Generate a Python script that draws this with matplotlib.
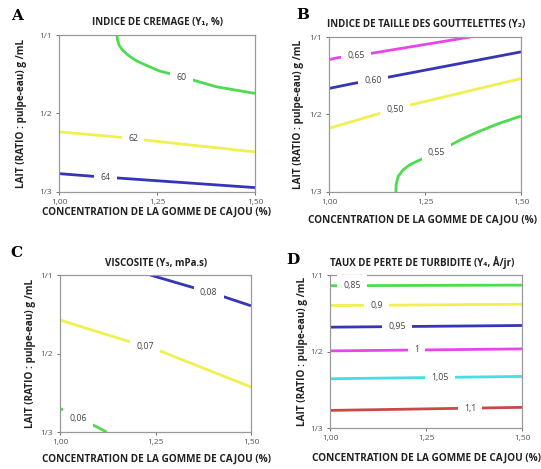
import matplotlib
matplotlib.use("Agg")
import matplotlib.pyplot as plt

W, H = 541, 469
plt.rcParams['font.family'] = ['Open Sans', 'DejaVu Sans']

GREEN = '#4ddc4d'
YELLOW = '#f0f050'
BLUE = '#3535b5'
MAGENTA = '#e846e8'
CYAN = '#46dede'
RED = '#cc4848'

x_ticks = [1.00, 1.25, 1.50]
x_ticklabels = ['1,00', '1,25', '1,50']
y_ticks = [0.0, 0.5, 1.0]
y_ticklabels = ['1/3', '1/2', '1/1']
xlabel = 'CONCENTRATION DE LA GOMME DE CAJOU (%)'
ylabel = 'LAIT (RATIO : pulpe-eau) g /mL'

# Panel A : INDICE DE CREMAGE
a_titles = 'INDICE DE CREMAGE (Y\u2081, %)'
a_60_x = [1.148, 1.149, 1.153, 1.162, 1.176, 1.197, 1.227, 1.257, 1.313, 1.342, 1.402, 1.50]
a_60_y = [1.000, 0.972, 0.936, 0.904, 0.872, 0.836, 0.802, 0.770, 0.735, 0.713, 0.670, 0.628]
a_62_x = [1.00, 1.164, 1.189, 1.223, 1.50]
a_62_y = [0.383, 0.347, 0.343, 0.330, 0.255]
a_64_x = [1.00, 1.087, 1.119, 1.151, 1.50]
a_64_y = [0.117, 0.100, 0.094, 0.089, 0.028]
a_levels = [('60', a_60_x, a_60_y, GREEN, 1.313, 0.73),
            ('62', a_62_x, a_62_y, YELLOW, 1.189, 0.343),
            ('64', a_64_x, a_64_y, BLUE, 1.119, 0.094)]

# Panel B : INDICE DE TAILLE DES GOUTTELETTES
b_title = 'INDICE DE TAILLE DES GOUTTELETTES (Y\u2082)'
b_065_x = [1.00, 1.024, 1.071, 1.106, 1.368]
b_065_y = [0.854, 0.867, 0.878, 0.893, 1.000]
b_060_x = [1.00, 1.063, 1.115, 1.159, 1.50]
b_060_y = [0.668, 0.700, 0.722, 0.743, 0.904]
b_050_x = [1.00, 1.132, 1.172, 1.211, 1.50]
b_050_y = [0.411, 0.507, 0.533, 0.561, 0.732]
b_055_x = [1.174, 1.175, 1.180, 1.193, 1.210, 1.228, 1.250, 1.280, 1.307, 1.345, 1.385, 1.440, 1.50]
b_055_y = [0.000, 0.050, 0.100, 0.143, 0.175, 0.197, 0.222, 0.255, 0.290, 0.340, 0.385, 0.440, 0.490]
b_levels = [('0,65', b_065_x, b_065_y, MAGENTA, 1.071, 0.878),
            ('0,60', b_060_x, b_060_y, BLUE, 1.115, 0.722),
            ('0,50', b_050_x, b_050_y, YELLOW, 1.172, 0.533),
            ('0,55', b_055_x, b_055_y, GREEN, 1.280, 0.255)]

# Panel C : VISCOSITE
c_title = 'VISCOSITE (Y\u2083, mPa.s)'
c_008_x = [1.236, 1.350, 1.389, 1.428, 1.50]
c_008_y = [1.000, 0.919, 0.889, 0.862, 0.804]
c_007_x = [1.00, 1.184, 1.223, 1.267, 1.50]
c_007_y = [0.713, 0.574, 0.543, 0.511, 0.287]
c_006_x = [1.00, 1.017, 1.048, 1.092, 1.122]
c_006_y = [0.149, 0.134, 0.085, 0.038, 0.000]
c_levels = [('0,08', c_008_x, c_008_y, BLUE, 1.389, 0.889),
            ('0,07', c_007_x, c_007_y, YELLOW, 1.223, 0.543),
            ('0,06', c_006_x, c_006_y, GREEN, 1.048, 0.085)]

# Panel D : TAUX DE PERTE DE TURBIDITE
d_title = 'TAUX DE PERTE DE TURBIDITE (Y\u2084, \u00c5/jr)'
d_labels = ['0,85', '0,9', '0,95', '1', '1,05', '1,1']
d_left_y = [0.930, 0.800, 0.659, 0.504, 0.322, 0.115]
d_right_y = [0.934, 0.809, 0.670, 0.517, 0.337, 0.135]
d_label_x = [1.057, 1.122, 1.174, 1.226, 1.287, 1.365]
d_colors = [GREEN, YELLOW, BLUE, MAGENTA, CYAN, RED]

fig = plt.figure(figsize=(W / 100, H / 100), dpi=100)


def rect(l, r, t, b):
    return [l / W, 1 - b / H, (r - l) / W, (b - t) / H]


def make_ax(box, title, letter, letter_xy, title_xy, ylab_x, xlab_xy):
    ax = fig.add_axes(rect(*box))
    ax.set_xlim(1.0, 1.5)
    ax.set_ylim(0.0, 1.0)
    ax.set_xticks(x_ticks)
    ax.set_xticklabels(x_ticklabels)
    ax.set_yticks(y_ticks)
    ax.set_yticklabels(y_ticklabels)
    ax.tick_params(labelsize=6, colors='#555555', length=2, width=0.6, pad=3)
    for s in ax.spines.values():
        s.set_color('#999999')
        s.set_linewidth(0.9)
    fig.text(letter_xy[0] / W, 1 - letter_xy[1] / H, letter, family='DejaVu Serif',
             fontsize=11, fontweight='bold', ha='center', va='center')
    fig.text(title_xy[0] / W, 1 - title_xy[1] / H, title, fontsize=7,
             fontweight='bold', ha='center', va='center', color='#222222')
    cy = (box[2] + box[3]) / 2
    fig.text(ylab_x / W, 1 - cy / H, ylabel, rotation=90, fontsize=7.2,
             fontweight='bold', ha='center', va='center', color='#222222')
    fig.text(xlab_xy[0] / W, 1 - xlab_xy[1] / H, xlabel, fontsize=7.2,
             fontweight='bold', ha='center', va='center', color='#222222')
    return ax


def draw_levels(ax, levels):
    for lab, xs, ys, col, lx, ly in levels:
        ax.plot(xs, ys, color=col, lw=2.0, solid_capstyle='butt', clip_on=True)
        ax.text(lx, ly, lab, fontsize=6.3, color='#444444', ha='center', va='center',
                bbox=dict(facecolor='white', edgecolor='none', pad=4.5), zorder=5)


axA = make_ax((59, 255, 35, 192), a_titles, 'A', (17, 16), (158, 22), 22, (157, 212))
draw_levels(axA, a_levels)

axB = make_ax((329, 521, 37, 192), b_title, 'B', (303, 15), (426, 25), 298, (423, 220))
draw_levels(axB, b_levels)

axC = make_ax((60, 251, 275, 432), c_title, 'C', (16, 253), (156, 263), 31, (157, 459))
draw_levels(axC, c_levels)

axD = make_ax((330, 522, 275, 428), d_title, 'D', (293, 260), (422, 262), 302, (427, 458))
d_levels = [(lab, [1.0, 1.5], [yl, yr], col, lx, yl + (yr - yl) * (lx - 1.0) / 0.5)
            for lab, yl, yr, col, lx in zip(d_labels, d_left_y, d_right_y, d_colors, d_label_x)]
draw_levels(axD, d_levels)

fig.savefig('out.png', dpi=100)
